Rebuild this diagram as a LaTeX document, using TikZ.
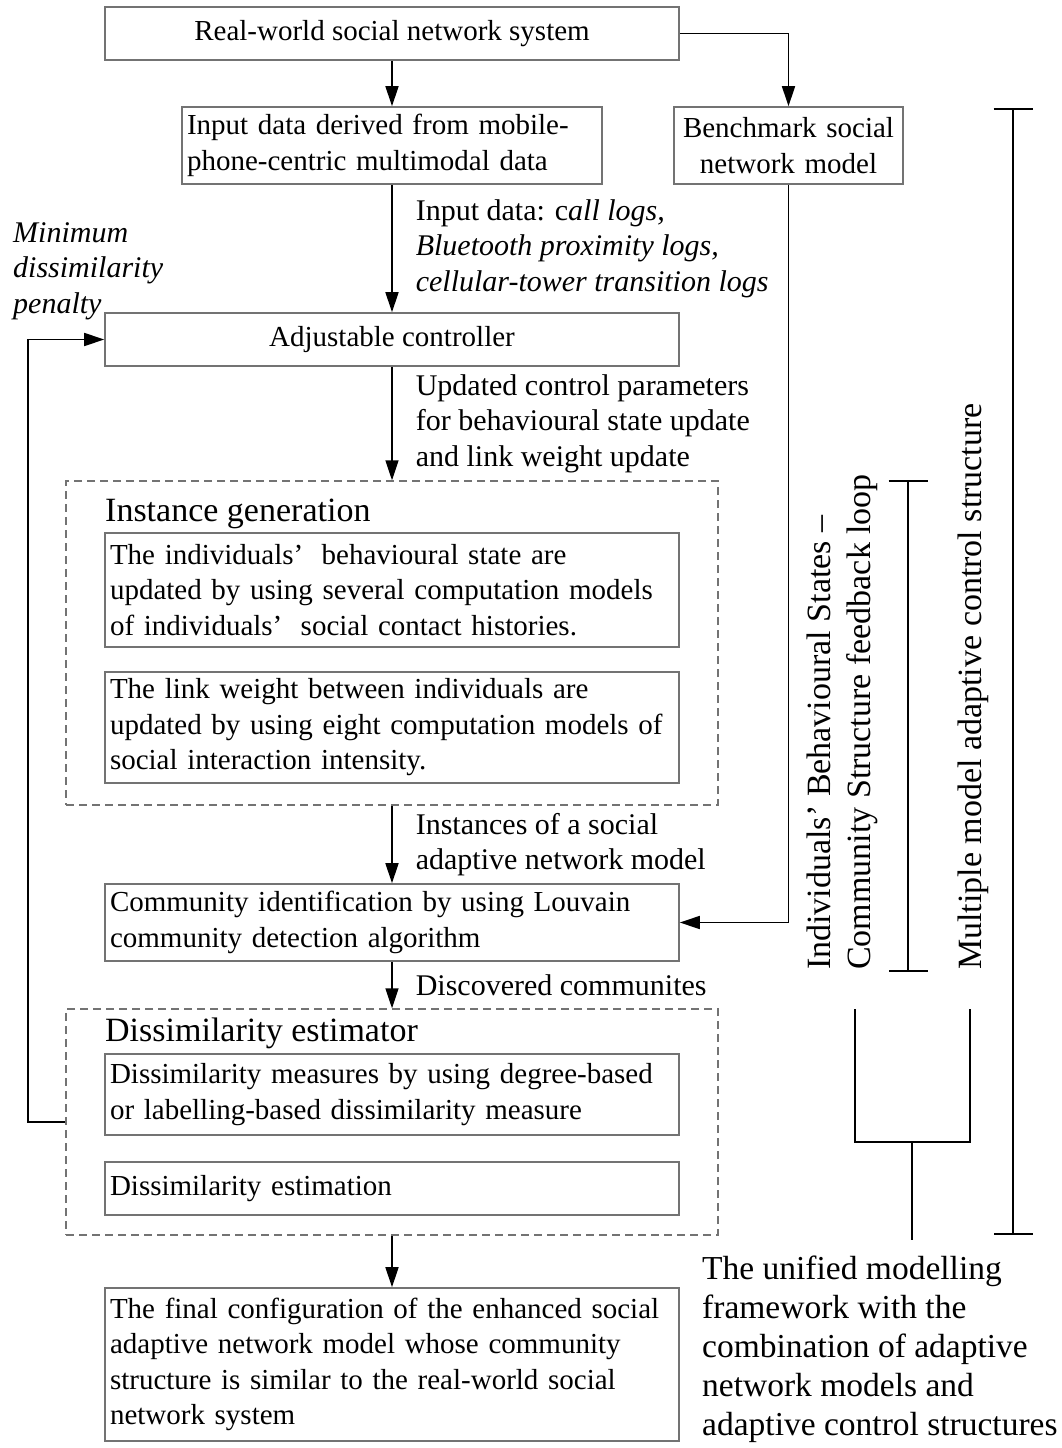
\documentclass[tikz,border=0pt]{standalone}
\usepackage{fontspec}
\setmainfont{Liberation Serif}
\usetikzlibrary{arrows.meta,positioning}

\newcommand{\boxfont}{\fontsize{29}{35.5}\selectfont}
\newcommand{\lblfont}{\fontsize{30}{35.5}\selectfont}
\newcommand{\headfont}{\fontsize{34}{40}\selectfont}
\newcommand{\sidefont}{\fontsize{34}{40}\selectfont}
\newcommand{\notefont}{\fontsize{33.5}{39}\selectfont}

\tikzset{
  >={Triangle[length=20pt,width=13pt]},
  procbox/.style={draw=black!55,line width=1.6pt,inner xsep=5pt,inner ysep=0pt,
    font=\boxfont},
  widebox/.style={procbox,minimum width=574pt,minimum height=53pt},
  textbox/.style={procbox,text width=564pt,align=left,minimum height=#1},
  stagebox/.style={draw=black!55,line width=1.4pt,dash pattern=on 8pt off 5pt,
    minimum width=652pt,inner sep=0pt},
  stagetitle/.style={font=\headfont,anchor=base west,inner sep=0pt},
  flow/.style={->,line width=1.6pt},
  flowlbl/.style={font=\lblfont,align=left,inner sep=0pt,right=23pt},
  penlbl/.style={font=\lblfont\itshape,align=left,inner sep=0pt,anchor=west},
  span/.style={line width=1.6pt,{Bar[width=39pt]}-{Bar[width=39pt]}},
  tree/.style={line width=1.6pt},
  sidelbl/.style={font=\sidefont,rotate=90,align=left,inner sep=0pt},
  notelbl/.style={font=\notefont,align=left,inner sep=0pt,anchor=north west},
}

\begin{document}
\begin{tikzpicture}[x=1pt,y=-1pt]
  \useasboundingbox (0,0) rectangle (1061,1448);

  % main column
  \node[widebox] (real) at (392,33.5) {Real-world social network system};
  \node[procbox,text width=410pt,align=left,minimum height=77pt] (input) at (392,145.5)
    {Input data derived from mobile-\\phone-centric multimodal data};
  \node[procbox,text width=219pt,align=center,minimum height=77pt] (bench) at (788.5,145.5)
    {Benchmark social\\network model};
  \node[widebox] (ctrl) at (392,339.5) {Adjustable controller};

  \node[stagebox,minimum height=324pt] (instgen) at (392,643) {};
  \node[stagetitle] (instgent) at (105,521) {Instance generation};
  \node[textbox=114pt] (state) at (392,590)
    {The individuals’\hspace{0.3em} behavioural state are\\updated by using several computation models\\of individuals’\hspace{0.3em} social contact histories.};
  \node[textbox=111pt] (weight) at (392,727.5)
    {The link weight between individuals are\\updated by using eight computation models of\\social interaction intensity.};

  \node[textbox=77pt] (comm) at (392,922.5)
    {Community identification by using Louvain\\community detection algorithm};

  \node[stagebox,minimum height=226pt] (dissim) at (392,1122) {};
  \node[stagetitle] (dissimt) at (105,1041) {Dissimilarity estimator};
  \node[textbox=81pt] (measure) at (392,1094.5)
    {Dissimilarity measures by using degree-based\\or labelling-based dissimilarity measure};
  \node[textbox=53pt] (estim) at (392,1188.5) {Dissimilarity estimation};

  \node[textbox=153pt] (final) at (392,1364.5)
    {The final configuration of the enhanced social\\adaptive network model whose community\\structure is similar to the real-world social\\network system};

  \node[penlbl] (penalty) at (13,271) {Minimum\\dissimilarity\\penalty};
  \coordinate (fb) at (28,1122);

  % connectors
  \draw[flow] (real.south) -- (input.north);
  \draw[flow] (real.east) -| (bench.north);
  \draw[flow] (input.south) -- node[flowlbl]
    {Input data: c\textit{all logs,}\\\textit{Bluetooth proximity logs,}\\\textit{cellular-tower transition logs}} (ctrl.north);
  \draw[flow] (ctrl.south) -- node[flowlbl]
    {Updated control parameters\\for behavioural state update\\and link weight update} (instgen.north);
  \draw[flow] (instgen.south) -- node[flowlbl]
    {Instances of a social\\adaptive network model} (comm.north);
  \draw[flow] (bench.south) |- (comm.east);
  \draw[flow] (comm.south) -- node[flowlbl] {Discovered communites} (dissim.north);
  \draw[flow] (dissim.south) -- (final.north);
  \draw[flow] (dissim.west) -- (fb) |- (ctrl.west);

  % scope brackets on the right
  \coordinate (alltop) at (1013,108);
  \coordinate (allbot) at (1013,1235);
  \coordinate (looptop) at (908,480);
  \coordinate (loopbot) at (908,972);
  \draw[span] (alltop) -- (allbot);
  \draw[span] (looptop) -- (loopbot);
  \draw[tree] (855,1009) -- (855,1142) -- (970,1142) -- (970,1009);
  \draw[tree] (912,1142) -- (912,1240);

  \node[sidelbl,anchor=south west] (looplbl) at (878,970)
    {Individuals’ Behavioural States –\\Community Structure feedback loop};
  \node[sidelbl,anchor=base west] (mmacs) at (981,970)
    {Multiple model adaptive control structure};
  \node[notelbl] (unified) at (702,1256)
    {The unified modelling\\framework with the\\combination of adaptive\\network models and\\adaptive control structures};
\end{tikzpicture}
\end{document}
